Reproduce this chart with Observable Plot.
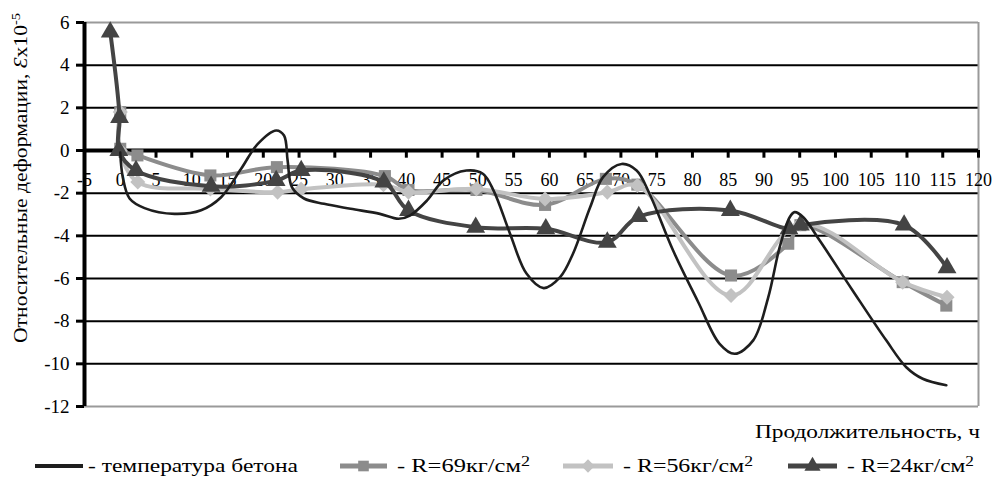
<!DOCTYPE html>
<html>
<head>
<meta charset="utf-8">
<script src="https://cdn.jsdelivr.net/npm/d3@7"></script>
<script src="https://cdn.jsdelivr.net/npm/@observablehq/plot@0.6"></script>
<style>
  body { margin: 0; background: #fff; font-family: "Liberation Serif", "Times New Roman", serif; }
  #wrap { position: relative; width: 994px; height: 478px; overflow: hidden; background: #fff; }
  #chart svg { display: block; }
  #legend { position: absolute; left: 0; top: 448px; }
</style>
</head>
<body>
<div id="wrap"><div id="chart"></div><svg id="legend" width="994" height="30"></svg></div>
<script>
// ---- tick labels ----
const xTicks = [-5, 0, 5, 10, 15, 20, 25, 30, 35, 40, 45, 50, 55, 60, 65, 70, 75, 80, 85, 90, 95, 100, 105, 110, 115, 120];
const yTicks = [-12, -10, -8, -6, -4, -2, 0, 2, 4, 6];

// ---- series names ----
const seriesNames = ["- температура бетона", "- R=69кг/см", "- R=56кг/см", "- R=24кг/см"];
const xTitle = "Продолжительность, ч";
const yTitle = "Относительные деформации, ";

// ---- температура бетона (smooth curve, traced) ----
const tempX = [0, 0.35, 1.3, 3.4, 7.6, 11.3, 14.1, 16.9, 19.2, 21.8, 22.9, 23.4, 24, 25.7, 28.5, 32.2, 36.3, 38.9, 40.5, 42.9, 45.2, 48.4, 50.7, 52.2, 54.5, 56.8, 59.2, 61.5, 63.3, 65.7, 67.5, 70.1, 72.2, 74, 77.3, 80.8, 83.8, 85.9, 88.5, 90.6, 92.2, 93.6, 94.3, 95.5, 97.8, 102.4, 107.1, 109.9, 112.2, 115.5];
const tempY = [-0.1, -1.25, -2.25, -2.7, -2.97, -2.8, -2.19, -0.86, 0.3, 0.94, 0.7, -0.47, -1.72, -2.25, -2.5, -2.73, -2.97, -3.2, -3.05, -2.34, -1.4, -0.94, -1.09, -1.88, -3.9, -5.77, -6.45, -5.94, -4.84, -2.66, -1.25, -0.63, -0.94, -2.03, -4.69, -7.1, -9.06, -9.53, -8.9, -6.88, -4.53, -3.13, -2.89, -3.13, -4.22, -6.56, -8.9, -10.16, -10.7, -11.0];

// ---- R=69 кг/см² (squares) ----
const r69X = [0, 0, 2.4, 12.6, 21.9, 37, 40.3, 49.8, 59.4, 67.9, 72.3, 85.4, 93.4, 95.1, 109.4, 115.5];
const r69Y = [1.8, 0.08, -0.23, -1.17, -0.78, -1.2, -1.85, -1.85, -2.55, -1.33, -1.6, -5.86, -4.37, -3.5, -6.17, -7.27];

// ---- R=56 кг/см² (diamonds) ----
const r56X = [0, 0, 2.45, 12.6, 22, 25.3, 36.8, 40.3, 49.8, 59.4, 68.1, 72.3, 85.4, 95.1, 109.4, 115.6];
const r56Y = [1.8, 0.0, -1.48, -1.8, -1.95, -1.82, -1.6, -1.95, -1.8, -2.27, -1.95, -1.64, -6.8, -3.44, -6.17, -6.88];

// ---- R=24 кг/см² (triangles) ----
const r24X = [-1.4, -0.1, -0.2, 2.2, 12.7, 21.8, 25.3, 36.85, 40.3, 49.7, 59.5, 68.1, 72.5, 85.3, 93.5, 95.1, 109.6, 115.6];
const r24Y = [5.55, 1.55, 0.0, -0.94, -1.68, -1.41, -0.94, -1.48, -2.81, -3.6, -3.67, -4.3, -3.1, -2.81, -3.67, -3.5, -3.5, -5.5];

const colors = ["#1e1e1e", "#8c8c8c", "#c2c2c2", "#444444"];
const symbols = ["square", "diamond2", "triangle"];

const toRows = (xs, ys) => xs.map((x, i) => ({x, y: ys[i]}));
const temp = toRows(tempX, tempY);
const r69 = toRows(r69X, r69Y);
const r56 = toRows(r56X, r56Y);
const r24 = toRows(r24X, r24Y);

const font = '"Liberation Serif", "Times New Roman", serif';

const plot = Plot.plot({
  width: 994,
  height: 448,
  marginLeft: 84,
  marginRight: 16,
  marginTop: 22,
  marginBottom: 42,
  x: {domain: [-5, 120], axis: null},
  y: {domain: [-12, 6]},
  style: {fontFamily: font, fontSize: "18px", background: "white", color: "black", overflow: "visible"},
  marks: [
    Plot.ruleY(yTicks.filter(v => v > -12 && v < 6), {y: d => d, stroke: "#000", strokeWidth: 2}),
    Plot.ruleY([yTicks[0], yTicks[yTicks.length - 1]], {y: d => d, stroke: "#9a9a9a", strokeWidth: 2}),
    Plot.ruleX([xTicks[xTicks.length - 1]], {x: d => d, stroke: "#9a9a9a", strokeWidth: 2}),
    Plot.text(xTicks, {x: d => d, y: 0, text: d => String(d), dy: 30, fontSize: 18, fill: "#000"}),
    Plot.axisY({ticks: yTicks, tickFormat: d => String(d), tickSize: 8, tickPadding: 7, strokeWidth: 3, fontSize: 19, label: null}),
    Plot.ruleX(xTicks, {x: d => d, y1: 0, y2: -0.36, stroke: "#000", strokeWidth: 3}),
    Plot.ruleY([0], {y: d => d, stroke: "#000", strokeWidth: 4}),
    Plot.ruleX([xTicks[0]], {x: d => d, stroke: "#000", strokeWidth: 4}),
    Plot.line(r69, {x: "x", y: "y", curve: "catmull-rom", stroke: colors[1], strokeWidth: 4}),
    Plot.dot(r69, {x: "x", y: "y", symbol: symbols[0], fill: colors[1], r: 6.8}),
    Plot.line(r56, {x: "x", y: "y", curve: "catmull-rom", stroke: colors[2], strokeWidth: 4}),
    Plot.dot(r56, {x: "x", y: "y", symbol: symbols[1], fill: colors[2], r: 6.8}),
    Plot.line(r24, {x: "x", y: "y", curve: "catmull-rom", stroke: colors[3], strokeWidth: 4}),
    Plot.dot(r24, {x: "x", y: "y", symbol: symbols[2], fill: colors[3], r: 7}),
    Plot.line(temp, {x: "x", y: "y", curve: "catmull-rom", stroke: colors[0], strokeWidth: 2.6})
  ]
});
document.getElementById("chart").appendChild(plot);

const svg = d3.select(plot);

// X-axis title
svg.append("text")
  .attr("x", 980).attr("y", 438)
  .attr("text-anchor", "end")
  .attr("fill", "#000")
  .attr("textLength", 225).attr("lengthAdjust", "spacingAndGlyphs")
  .style("font-family", font).style("font-size", "19px")
  .text(xTitle);

// Y-axis title with italic epsilon and superscript
const yt = svg.append("text")
  .attr("transform", "translate(27,178) rotate(-90)")
  .attr("text-anchor", "middle")
  .attr("fill", "#000")
  .attr("textLength", 330).attr("lengthAdjust", "spacingAndGlyphs")
  .style("font-family", font)
  .style("font-size", "18px");
yt.append("tspan").text(yTitle);
yt.append("tspan").style("font-style", "italic").text("Ɛ");
yt.append("tspan").text("x10");
yt.append("tspan").attr("dy", "-0.55em").style("font-size", "12px").text("-5");

// Legend
const legend = d3.select("#legend");
const items = [
  {sw: 35, w: 48, t: 88, tl: 210, color: colors[0], sym: null, width: 4, sup: false},
  {sw: 340, w: 47, t: 397, tl: 133, color: colors[1], sym: symbols[0], width: 5, sup: true},
  {sw: 563, w: 50, t: 623, tl: 130, color: colors[2], sym: symbols[1], width: 5, sup: true},
  {sw: 788, w: 49, t: 847, tl: 127, color: colors[3], sym: symbols[2], width: 5, sup: true}
];
const symMap = {square: d3.symbolSquare, diamond2: d3.symbolDiamond2, triangle: d3.symbolTriangle};
items.forEach((it, i) => {
  legend.append("line").attr("x1", it.sw).attr("x2", it.sw + it.w).attr("y1", 18).attr("y2", 18)
    .attr("stroke", it.color).attr("stroke-width", it.width);
  if (it.sym) {
    legend.append("path").attr("transform", `translate(${it.sw + it.w / 2},18)`)
      .attr("d", d3.symbol(symMap[it.sym], Math.PI * 36)())
      .attr("fill", it.color);
  }
  const t = legend.append("text")
    .attr("x", it.t).attr("y", 24)
    .attr("fill", "#000")
    .attr("textLength", it.tl).attr("lengthAdjust", "spacingAndGlyphs")
    .style("font-family", font).style("font-size", "19px");
  t.append("tspan").text(seriesNames[i]);
  if (it.sup) t.append("tspan").attr("dy", "-0.4em").style("font-size", "14px").text("2");
});
</script>
</body>
</html>
